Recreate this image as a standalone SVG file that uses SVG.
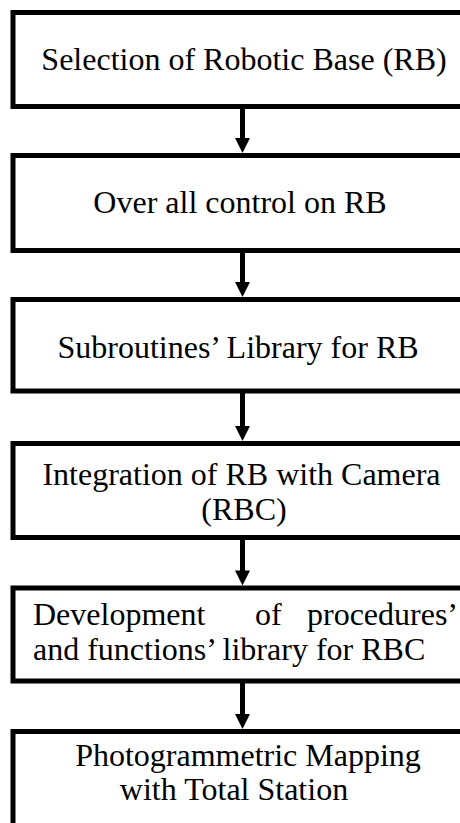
<svg xmlns="http://www.w3.org/2000/svg" width="460" height="823" viewBox="0 0 460 823">
<style>
.box{fill:#fff;stroke:#000;stroke-width:5}
.t{font-size:32px;fill:#000}
.m{text-anchor:middle}
.ln{stroke:#000;stroke-width:5;fill:none}
.hd{fill:#000}
</style>
<rect width="460" height="823" fill="#fff"/>
<g id="connectors">
<line class="ln" x1="242.5" y1="106.5" x2="242.5" y2="140"/><polygon class="hd" points="235,138 250,138 242.5,153"/>
<line class="ln" x1="242.5" y1="250.5" x2="242.5" y2="284"/><polygon class="hd" points="235,282 250,282 242.5,297"/>
<line class="ln" x1="242.5" y1="391" x2="242.5" y2="428"/><polygon class="hd" points="235,426 250,426 242.5,441"/>
<line class="ln" x1="242.5" y1="537.5" x2="242.5" y2="573"/><polygon class="hd" points="235,570.5 250,570.5 242.5,585.5"/>
<line class="ln" x1="242.5" y1="681" x2="242.5" y2="716"/><polygon class="hd" points="235,714 250,714 242.5,729"/>
</g>
<g font-family="'Liberation Serif', 'DejaVu Serif', serif">
<g id="n1"><rect class="box" x="13" y="12.5" width="462" height="94"/><text class="t m" x="244" y="70">Selection of Robotic Base (RB)</text></g>
<g id="n2"><rect class="box" x="13" y="155.5" width="462" height="95"/><text class="t m" x="240" y="213">Over all control on RB</text></g>
<g id="n3"><rect class="box" x="13" y="299.5" width="462" height="91.5"/><text class="t m" x="238" y="358">Subroutines’ Library for RB</text></g>
<g id="n4"><rect class="box" x="13" y="443.5" width="462" height="94"/><text class="t m" x="241.5" y="485">Integration of RB with Camera</text><text class="t m" x="244" y="520">(RBC)</text></g>
<g id="n5"><rect class="box" x="13" y="588" width="462" height="93"/><text class="t" x="33" y="625">Development</text><text class="t" x="255" y="625">of</text><text class="t" x="458" y="625" text-anchor="end">procedures’</text><text class="t" x="33" y="660">and functions’ library for RBC</text></g>
<g id="n6"><rect class="box" x="13" y="731.5" width="462" height="120"/><text class="t m" x="248" y="766">Photogrammetric Mapping</text><text class="t m" x="234" y="800">with Total Station</text></g>
</g>
</svg>
